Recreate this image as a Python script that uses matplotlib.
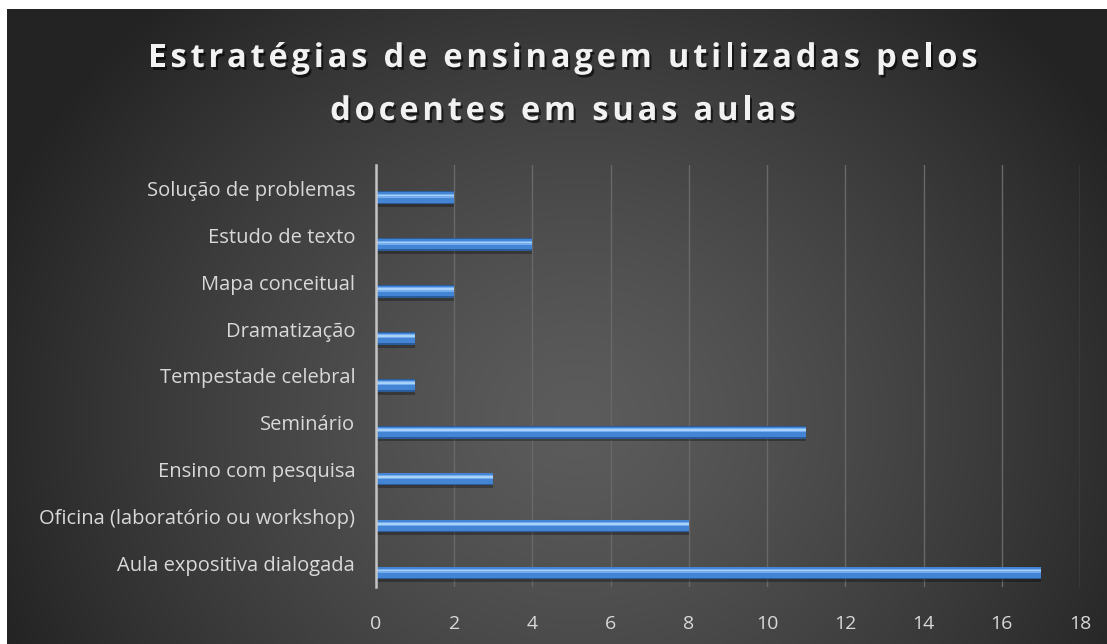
import numpy as np
import matplotlib
matplotlib.use('Agg')
import matplotlib.pyplot as plt
import matplotlib.patheffects as pe
from matplotlib.font_manager import FontProperties

matplotlib.rcParams['font.family'] = ['Open Sans', 'DejaVu Sans']

# dados (de cima para baixo)
categorias = [
    'Solução de problemas',
    'Estudo de texto',
    'Mapa conceitual',
    'Dramatização',
    'Tempestade celebral',
    'Seminário',
    'Ensino com pesquisa',
    'Oficina (laboratório ou workshop)',
    'Aula expositiva dialogada',
]
valores = [2, 4, 2, 1, 1, 11, 3, 8, 17]
xticks = [0, 2, 4, 6, 8, 10, 12, 14, 16, 18]
titulo = ['Estratégias de ensinagem utilizadas pelos', 'docentes em suas aulas']

W, H = 1107, 644
fig = plt.figure(figsize=(W / 100, H / 100), dpi=100)
fig.patch.set_facecolor('white')

# fundo com gradiente radial
bg = fig.add_axes([7 / W, 0, 1 - 7 / W, 1 - 9 / H])
bg.set_axis_off()
yy, xx = np.mgrid[0:635, 0:1100]
d = np.sqrt(((xx - 570) / 1.0) ** 2 + ((yy - 410) / 0.9) ** 2) / 620
d = np.clip(d, 0, 1)
c0, c1 = 0.36, 0.14
img = c0 + (c1 - c0) * d ** 1.3
bg.imshow(np.dstack([img, img, img]), aspect='auto', extent=[0, 1, 0, 1], origin='upper')
bg.set_xlim(0, 1)
bg.set_ylim(0, 1)

ax = fig.add_axes([376 / W, 1 - 587 / H, (1080 - 376) / W, (587 - 165) / H])
ax.patch.set_alpha(0)

y = np.arange(len(categorias))
yb = y + 0.2
h = 0.27

# sombra
ax.barh(yb + 0.06, valores, height=h, color='black', alpha=0.3, zorder=2)
# corpo da barra (efeito cilindro)
ax.barh(yb, valores, height=h, color='#2b5c9a', zorder=3)
ax.barh(yb - 0.01, valores, height=h * 0.82, color='#4384d4', zorder=4)
ax.barh(yb - 0.045, valores, height=h * 0.32, color='#74aded', zorder=5)
ax.barh(yb - 0.05, valores, height=h * 0.13, color='#a9d2fa', zorder=6)

ax.set_xlim(0, 18)
ax.set_ylim(len(categorias) - 0.5, -0.5)
ax.set_xticks(xticks)
ax.set_yticks(y)
ax.set_yticklabels(categorias)
ax.tick_params(axis='y', length=0, pad=15, labelsize=14.5, labelcolor='#d9d9d9')
ax.tick_params(axis='x', length=0, pad=20, labelsize=14, labelcolor='#d9d9d9')

ax.grid(axis='x', color='#686868', linewidth=1, zorder=1)
ax.set_axisbelow(True)
for s in ['top', 'right', 'bottom']:
    ax.spines[s].set_visible(False)
ax.spines['left'].set_color('#c4c4c4')
ax.spines['left'].set_linewidth(1.8)
ax.spines['left'].set_zorder(7)

# título com espaçamento entre letras
fp = FontProperties(family=['Open Sans', 'DejaVu Sans'], weight='bold', size=23.5)
renderer = fig.canvas.get_renderer()


def largura(s):
    return renderer.get_text_width_height_descent(s, fp, ismath=False)[0]


espaco = 3.8
sombra = [pe.withSimplePatchShadow(offset=(1.5, -2), shadow_rgbFace='black', alpha=0.6)]
base = largura('II')
for linha, y_base in zip(titulo, [67, 120]):
    avancos = [largura('I' + c + 'I') - base for c in linha]
    total = sum(avancos) + espaco * (len(linha) - 1)
    x = 563 - total / 2
    for c, a in zip(linha, avancos):
        if c != ' ':
            fig.text(x / W, 1 - y_base / H, c, ha='left', va='baseline',
                     fontproperties=fp, color='#f2f2f2', path_effects=sombra)
        x += a + espaco

fig.savefig('out.png', dpi=100)
